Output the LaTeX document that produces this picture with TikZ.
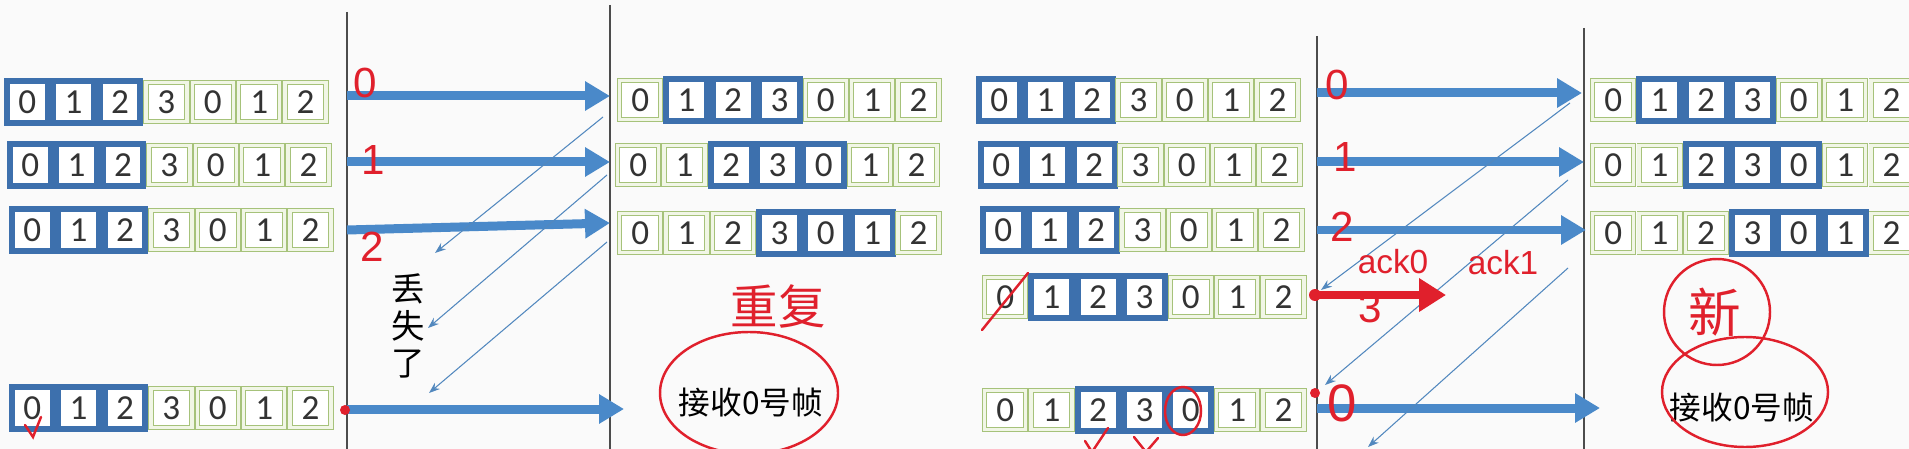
\documentclass[tikz,border=0pt]{standalone}
\usepackage{fontspec}
\setmainfont{Carlito}
\newfontfamily\cjk{Noto Sans CJK SC}
\newfontfamily\hand{Liberation Sans}
\usetikzlibrary{arrows.meta}

\definecolor{frameblue}{HTML}{3D70AD}
\definecolor{arrowblue}{HTML}{4A89C9}
\definecolor{cellgreen}{HTML}{A6C27A}
\definecolor{palegreen}{HTML}{F1F6E6}
\definecolor{inkred}{HTML}{E0202C}
\definecolor{slide}{HTML}{FAFAFA}

\newcommand{\cellfont}{\fontsize{20}{24}\selectfont}

% seven cells 0 1 2 3 0 1 2: name, left edge, centre y, window from #4 to #5
\newcommand{\seqrow}[5]{%
  \foreach \d [count=\i from 0] in {0,1,2,3,0,1,2} {
    \ifnum\i<#4\relax
      \node[gcell] (#1-\i) at ({#2+23.2+46.4*\i},#3) {\d};
    \else\ifnum\i>#5\relax
      \node[gcell] (#1-\i) at ({#2+23.2+46.4*\i},#3) {\d};
    \else
      \node[bcell] (#1-\i) at ({#2+23.2+46.4*\i},#3) {\d};
    \fi\fi
  }}

\begin{document}
\begin{tikzpicture}[x=0.02cm, y=-0.02cm,
    gcell/.style={draw=cellgreen, double=palegreen, double distance=0.07cm, line width=0.5pt, fill=white,
      minimum width=0.82cm, minimum height=0.78cm, inner sep=0pt, text=black!80, font=\cellfont},
    bcell/.style={draw=frameblue, line width=0.12cm, fill=white,
      minimum width=0.82cm, minimum height=0.86cm, inner sep=0pt, text=black!80, font=\cellfont},
    timeline/.style={draw=black!70, line width=1.1pt},
    frame/.style={draw=arrowblue, line width=0.18cm, -{Triangle[length=0.5cm,width=0.56cm]}},
    ack/.style={draw=arrowblue!85!gray, line width=0.6pt, -{Stealth[length=0.22cm,width=0.16cm]}},
    ink/.style={draw=inkred, line width=1.4pt, line cap=round},
    inktext/.style={text=inkred, font=\hand\fontsize{24}{26}\selectfont}]

  \fill[slide] (0,0) rectangle (1909,449);
  \useasboundingbox (0,0) rectangle (1909,449);

  % time lines
  \coordinate (lsTop) at (347,12);  \coordinate (lsBot) at (347,449);
  \coordinate (lrTop) at (610,5);   \coordinate (lrBot) at (610,449);
  \coordinate (rsTop) at (1317,36); \coordinate (rsBot) at (1317,449);
  \coordinate (rrTop) at (1584,28); \coordinate (rrBot) at (1584,449);
  \draw[timeline] (lsTop) -- (lsBot);
  \draw[timeline] (lrTop) -- (lrBot);
  \draw[timeline] (rsTop) -- (rsBot);
  \draw[timeline] (rrTop) -- (rrBot);

  % left case: sender windows
  \seqrow{ls1}{4}{102}{0}{2}
  \seqrow{ls2}{7}{165}{0}{2}
  \seqrow{ls3}{9}{230}{0}{2}
  \seqrow{ls4}{9}{408}{0}{2}
  % left case: receiver windows
  \seqrow{lr1}{617}{100}{1}{3}
  \seqrow{lr2}{615}{165}{2}{4}
  \seqrow{lr3}{617}{233}{3}{5}

  % right case: sender windows
  \seqrow{rs1}{976}{100}{0}{2}
  \seqrow{rs2}{978}{165}{0}{2}
  \seqrow{rs3}{980}{230}{0}{2}
  \seqrow{rs4}{982}{297}{1}{3}
  \seqrow{rs5}{982}{410}{2}{4}
  % right case: receiver windows
  \seqrow{rr1}{1590}{100}{1}{3}
  \seqrow{rr2}{1590}{165}{2}{4}
  \seqrow{rr3}{1590}{233}{3}{5}

  % left case: frames and lost acks
  \coordinate (lf0s) at (347,96);  \coordinate (lf0r) at (610,96);
  \coordinate (lf1s) at (347,162); \coordinate (lf1r) at (610,162);
  \coordinate (lf2s) at (347,230); \coordinate (lf2r) at (610,223);
  \coordinate (lf3s) at (347,409); \coordinate (lf3r) at (624,409);
  \draw[frame] (lf0s) -- (lf0r);
  \draw[frame] (lf1s) -- (lf1r);
  \draw[frame] (lf2s) -- (lf2r);
  \draw[frame] (lf3s) -- (lf3r);
  \coordinate (la0r) at (603,117); \coordinate (la0s) at (435,253);
  \coordinate (la1r) at (607,175); \coordinate (la1s) at (428,328);
  \coordinate (la2r) at (607,242); \coordinate (la2s) at (429,393);
  \draw[ack] (la0r) -- (la0s);
  \draw[ack] (la1r) -- (la1s);
  \draw[ack] (la2r) -- (la2s);
  \node (lost) at (408,326) [align=center, font=\cjk\fontsize{19}{21}\selectfont] {丢\\失\\了};

  % right case: frames and acks
  \coordinate (rf0s) at (1317,93);  \coordinate (rf0r) at (1582,93);
  \coordinate (rf1s) at (1317,162); \coordinate (rf1r) at (1584,162);
  \coordinate (rf2s) at (1317,230); \coordinate (rf2r) at (1586,230);
  \coordinate (rf3s) at (1317,408); \coordinate (rf3r) at (1600,408);
  \draw[frame] (rf0s) -- (rf0r);
  \draw[frame] (rf1s) -- (rf1r);
  \draw[frame] (rf2s) -- (rf2r);
  \draw[frame] (rf3s) -- (rf3r);
  \coordinate (ra0r) at (1570,103); \coordinate (ra0s) at (1321,290);
  \coordinate (ra1r) at (1568,180); \coordinate (ra1s) at (1325,385);
  \coordinate (ra2r) at (1568,268); \coordinate (ra2s) at (1368,447);
  \draw[ack] (ra0r) -- (ra0s);
  \draw[ack] (ra1r) -- (ra1s);
  \draw[ack] (ra2r) -- (ra2s);

  % receiver notes
  \node (lrecv) at (751,403) [font=\cjk\fontsize{18}{20}\selectfont] {接收0号帧};
  \node (rrecv) at (1742,408) [font=\cjk\fontsize{18}{20}\selectfont] {接收0号帧};

  % red ink, left case
  \node[inktext] (ln0) at (365,83) {0};
  \node[inktext] (ln1) at (373,160) {1};
  \node[inktext] (ln2) at (372,247) {2};
  \fill[inkred] (345,410) circle [radius=5];
  \draw[ink] (25,425) -- (33,437) -- (41,417);
  \draw[ink] (lrecv) ++(-2,-10) ellipse [x radius=89, y radius=61];
  \node[text=inkred, font=\cjk\fontsize{27}{30}\selectfont] (dup) at (778,306) {重复};

  % red ink, right case
  \node[inktext] (rn0) at (1337,85) {0};
  \node[inktext] (rn1) at (1345,157) {1};
  \node[inktext] (rn2) at (1342,227) {2};
  \node[inktext, font=\hand\fontsize{19}{21}\selectfont] (ack0) at (1393,262) {ack0};
  \node[inktext, font=\hand\fontsize{19}{21}\selectfont] (ack1) at (1503,263) {ack1};
  \coordinate (r3s) at (1315,295); \coordinate (r3e) at (1446,295);
  \fill[inkred] (r3s) circle [radius=6];
  \draw[draw=inkred, line width=0.18cm, -{Triangle[length=0.54cm,width=0.64cm]}] (r3s) -- (r3e);
  \node[inktext] (rn3) at (1370,308) {3};
  \fill[inkred] (1315,393) circle [radius=5];
  \node[inktext, font=\hand\fontsize{30}{32}\selectfont] (rn0b) at (1342,403) {0};
  \draw[ink] (982,330) -- (1028,273);
  \draw[ink] (1183,411) ellipse [x radius=18, y radius=24];
  \draw[ink] (1085,441) -- (1092,452) -- (1108,428);
  \draw[ink] (1134,437) -- (1146,452) -- (1158,438);
  \draw[ink] (1717,312) circle [radius=53];
  \node[text=inkred, font=\cjk\fontsize{30}{32}\selectfont] (new) at (1715,312) {新};
  \draw[ink] (1745,392) ellipse [x radius=83, y radius=55];
\end{tikzpicture}
\end{document}
